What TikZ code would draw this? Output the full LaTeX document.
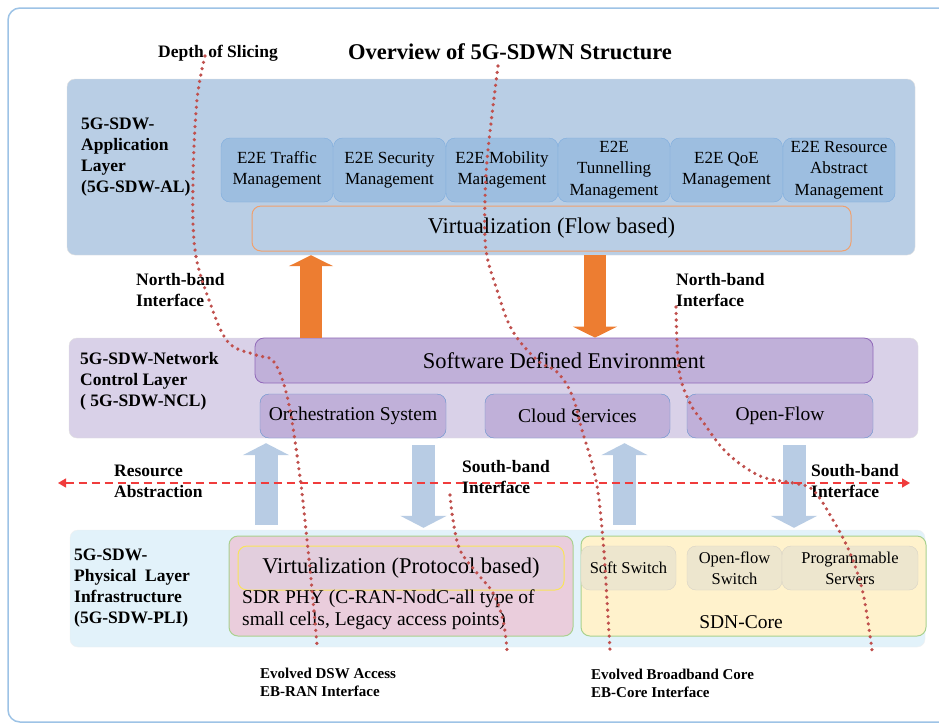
\documentclass[tikz,border=0pt]{standalone}
\usepackage{fontspec}
\setmainfont{Liberation Serif}
\usetikzlibrary{arrows.meta,calc}
\definecolor{framec}{RGB}{157,195,230}
\definecolor{appfill}{RGB}{185,206,229}
\definecolor{e2efill}{RGB}{157,190,224}
\definecolor{e2edraw}{RGB}{125,172,222}
\definecolor{orangec}{RGB}{237,125,49}
\definecolor{orangeb}{RGB}{240,160,110}
\definecolor{nclfill}{RGB}{217,209,232}
\definecolor{purfill}{RGB}{192,176,217}
\definecolor{purdraw}{RGB}{145,105,185}
\definecolor{bluedraw}{RGB}{100,145,205}
\definecolor{arrowblue}{RGB}{184,204,228}
\definecolor{physfill}{RGB}{226,242,250}
\definecolor{pinkfill}{RGB}{234,205,220}
\definecolor{greendraw}{RGB}{169,209,142}
\definecolor{innerpink}{RGB}{226,206,221}
\definecolor{yellowdraw}{RGB}{250,228,90}
\definecolor{sdnfill}{RGB}{255,242,204}
\definecolor{swfill}{RGB}{237,230,206}
\definecolor{swdraw}{RGB}{215,210,198}
\definecolor{dashred}{RGB}{240,60,60}
\definecolor{dotred}{RGB}{192,80,77}
\begin{document}
\begin{tikzpicture}[x=1pt,y=-1pt,
  layerbox/.style={draw=black!12, rounded corners=8pt, inner sep=0pt},
  cbox/.style={rounded corners=9pt, inner sep=1pt, align=center},
  e2ebox/.style={cbox, fill=e2efill, draw=e2edraw, minimum width=112pt, minimum height=64pt,
     font=\fontsize{17}{21.5}\selectfont},
  purbox/.style={cbox, fill=purfill, draw=bluedraw, minimum height=44pt, font=\fontsize{19.5}{23}\selectfont},
  swbox/.style={cbox, fill=swfill, draw=swdraw, minimum height=44pt, font=\fontsize{16.5}{21}\selectfont},
  lbl/.style={font=\fontsize{17.5}{21}\selectfont\bfseries, align=left, inner sep=0pt, anchor=west},
  smalllbl/.style={font=\fontsize{15}{18}\selectfont\bfseries, align=left, inner sep=0pt, anchor=west},
  orangearrow/.style={draw=orangec, line width=22pt, -{Triangle[length=11pt,width=44pt]}},
  bluearrow/.style={draw=arrowblue, line width=23pt, -{Triangle[length=12pt,width=46pt]}},
  redline/.style={draw=dashred, line width=1.3pt, dash pattern=on 8pt off 5pt,
     {Triangle[length=8pt,width=9pt]}-{Triangle[length=8pt,width=9pt]}},
  dotcurve/.style={draw=dotred, line width=3.6pt, line cap=round, dash pattern=on 0pt off 6.5pt}
]
\useasboundingbox (0,0) rectangle (939,724);
\clip (0,0) rectangle (939,724);
\fill[white] (0,0) rectangle (939,724);

% outer frame
\draw[framec, line width=1.5pt, rounded corners=12pt] (8,8) rectangle (970,722);

% titles
\node[inner sep=0pt, font=\fontsize{22.5}{26}\selectfont\bfseries] (title) at (510,52) {Overview of 5G-SDWN Structure};
\node[inner sep=0pt, font=\fontsize{17.5}{20}\selectfont\bfseries] (depth) at (218,53) {Depth of Slicing};

% application layer
\node[layerbox, fill=appfill, minimum width=848pt, minimum height=176pt] (app) at (491,167) {};
\node[lbl] (allbl) at (81,157.5) {5G-SDW-\\Application\\Layer\\(5G-SDW-AL)};
\node[e2ebox] (e1) at (277,170) {E2E Traffic\\Management};
\node[e2ebox] (e2) at (389.5,170) {E2E Security\\Management};
\node[e2ebox] (e3) at (502,170) {E2E Mobility\\Management};
\node[e2ebox] (e4) at (614,170) {E2E\\Tunnelling\\Management};
\node[e2ebox] (e5) at (726.5,170) {E2E QoE\\Management};
\node[e2ebox] (e6) at (839,170) {E2E Resource\\Abstract\\Management};
\node[cbox, draw=orangeb, line width=1pt, minimum width=599pt, minimum height=45pt,
      font=\fontsize{22.5}{26}\selectfont] (vflow) at (551.5,228.5) {Virtualization (Flow based)};

% network control layer
\node[layerbox, fill=nclfill, minimum width=849pt, minimum height=100pt] (ncl) at (493.5,388) {};
\node[lbl] (ncllbl) at (80,381.5) {5G-SDW-Network\\Control Layer\\( 5G-SDW-NCL)};
\node[cbox, fill=purfill, draw=purdraw, line width=0.8pt, minimum width=618pt, minimum height=45pt,
      font=\fontsize{22.5}{26}\selectfont] (sde) at (564,360.5) {Software Defined Environment};
\node[purbox, minimum width=186pt] (orch) at (353,416) {Orchestration System};
\node[purbox, minimum width=185pt] (cloud) at (577.5,416) {Cloud Services};
\node[purbox, minimum width=186pt] (oflow) at (780,416) {Open-Flow};

% north-band arrows
\coordinate (oa1) at (311,0);
\coordinate (oa2) at (595,0);
\draw[orangearrow] (sde.north -| oa1) -- (app.south -| oa1);
\draw[orangearrow] (app.south -| oa2) -- (sde.north -| oa2);
\node[lbl] (nb1) at (136,290) {North-band\\Interface};
\node[lbl] (nb2) at (676,290) {North-band\\Interface};

% physical layer
\node[layerbox, draw=black!6, fill=physfill, minimum width=855pt, minimum height=117pt] (phys) at (497.5,588.5) {};
\node[lbl] (plilbl) at (74,588.5) {5G-SDW-\\Physical~ Layer\\Infrastructure\\(5G-SDW-PLI)};
\node[cbox, fill=pinkfill, draw=greendraw, line width=1pt, minimum width=344pt, minimum height=100pt] (pink) at (401,586) {};
\node[cbox, fill=innerpink, draw=yellowdraw, line width=1pt, minimum width=326pt, minimum height=44pt,
      font=\fontsize{22.5}{26}\selectfont] (vprot) at (401,568) {Virtualization (Protocol based)};
\node[inner sep=0pt, anchor=west, align=left, font=\fontsize{19.5}{22}\selectfont] (sdr) at (242,610)
   {SDR PHY (C-RAN-NodC-all type of\\small cells, Legacy access points)};
\node[cbox, fill=sdnfill, draw=greendraw, line width=1pt, minimum width=345pt, minimum height=100pt] (sdn) at (753.5,586) {};
\node[swbox, minimum width=95pt] (soft) at (628.5,568) {Soft Switch};
\node[swbox, minimum width=95pt] (ofs) at (734.5,568) {Open-flow\\Switch};
\node[swbox, minimum width=136pt] (prog) at (850,568) {Programmable\\Servers};
\node[inner sep=0pt, font=\fontsize{19.5}{22}\selectfont] (sdnlbl) at (741,622) {SDN-Core};

% south-band arrows
\coordinate (ba1) at (266,0);
\coordinate (ba2) at (423.5,0);
\coordinate (ba3) at (624.5,0);
\coordinate (ba4) at (794,0);
\draw[bluearrow, shorten <=5pt, shorten >=5pt] (phys.north -| ba1) -- (ncl.south -| ba1);
\draw[bluearrow, shorten <=7pt, shorten >=2pt] (ncl.south -| ba2) -- (phys.north -| ba2);
\draw[bluearrow, shorten <=5pt, shorten >=5pt] (phys.north -| ba3) -- (ncl.south -| ba3);
\draw[bluearrow, shorten <=7pt, shorten >=2pt] (ncl.south -| ba4) -- (phys.north -| ba4);

% resource abstraction dashed line
\coordinate (ra1) at (58,483);
\coordinate (ra2) at (910,483);
\draw[redline] (ra1) -- (ra2);
\node[lbl] (reslbl) at (114,481) {Resource\\Abstraction};
\node[lbl] (sb1) at (462,477.5) {South-band\\Interface};
\node[lbl] (sb2) at (811,481.5) {South-band\\Interface};

% bottom labels
\node[smalllbl] (ebran) at (260,682) {Evolved DSW Access\\EB-RAN Interface};
\node[smalllbl] (ebcore) at (591,683) {Evolved Broadband Core\\EB-Core Interface};

% dotted slicing curves
\draw[dotcurve] plot[smooth, tension=0.6] coordinates {(205,56) (197,100) (193,180) (195,250) (209,300) (228,342) (256,355) (274,362) (288,400) (300,477) (307,540) (313,600) (317,645)};
\draw[dotcurve] plot[smooth, tension=0.6] coordinates {(498,66) (488,150) (485,200) (486,250) (497,290) (512,330) (537,360) (557,372) (572,395) (582,430) (596,480) (603,540) (607,600) (610,650)};
\draw[dotcurve] plot[smooth, tension=0.6] coordinates {(676,307) (679,370) (690,403) (703,422) (727,453) (760,476) (793,483) (813,490) (833,520) (850,553) (863,593) (872,650)};
\draw[dotcurve] plot[smooth, tension=0.6] coordinates {(450,495) (453,520) (460,550) (477,573) (493,593) (503,620) (507,650)};
\end{tikzpicture}
\end{document}
